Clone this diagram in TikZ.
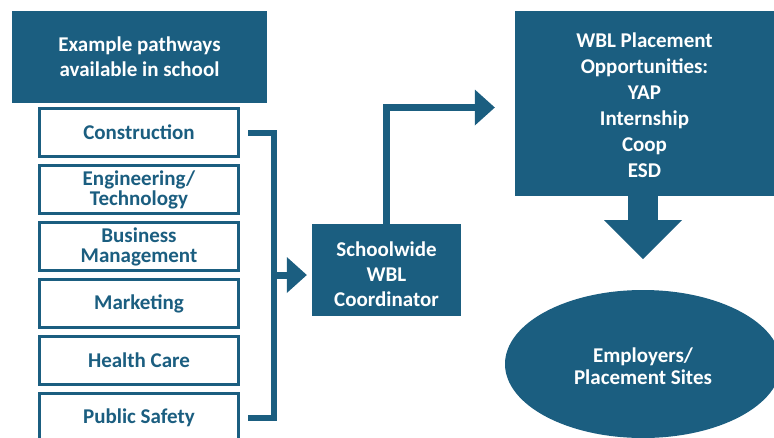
\documentclass[tikz,border=0pt]{standalone}
\usepackage{fontspec}
\setmainfont{Carlito}
\usetikzlibrary{arrows.meta,calc,shapes.geometric}
\definecolor{wblblue}{HTML}{1B5E80}
\begin{document}
\begin{tikzpicture}[x=1pt,y=-1pt,
  darkbox/.style={fill=wblblue, text=white, align=center, inner sep=0pt,
    font=\bfseries\fontsize{21}{25}\selectfont},
  pathbox/.style={draw=wblblue, line width=3pt, fill=white, text=wblblue,
    align=center, inner sep=0pt, minimum width=199pt, minimum height=48pt,
    font=\bfseries\fontsize{21}{20}\selectfont},
  link/.style={draw=wblblue, line width=6pt, line join=miter, line cap=butt},
  flow/.style={draw=wblblue, line width=7pt, line join=miter,
    -{Triangle[width=36pt,length=20pt,line width=0pt]}},
  bigflow/.style={draw=wblblue, line width=30pt,
    -{Triangle[width=78pt,length=39pt,line width=0pt]}}
]
\clip (0,0) rectangle (774,437);

% pathway list
\node[darkbox, minimum width=255pt, minimum height=92pt] (head) at (139.5,57)
  {Example pathways\\available in school};
\node[pathbox] (p1) at (139,132.5) {Construction};
\node[pathbox] (p2) at (139,189.5) {Engineering/\\Technology};
\node[pathbox] (p3) at (139,246.5) {Business\\Management};
\node[pathbox] (p4) at (139,303.5) {Marketing};
\node[pathbox] (p5) at (139,360.5) {Health Care};
\node[pathbox] (p6) at (139,417.5) {Public Safety};

% coordinator and placements
\node[darkbox, minimum width=149pt, minimum height=92pt] (coord) at (386.5,270)
  {\rule{0pt}{23pt}Schoolwide\\WBL\\Coordinator};
\node[darkbox, minimum width=259pt, minimum height=185pt,
  font=\bfseries\fontsize{21}{26}\selectfont] (wbl) at (644.5,103.5)
  {\rule{0pt}{19pt}WBL Placement\\Opportunities:\\YAP\\Internship\\Coop\\ESD};
\node[darkbox, ellipse, minimum width=276pt, minimum height=148pt,
  font=\bfseries\fontsize{21}{22}\selectfont] (emp) at (643,364)
  {\rule{0pt}{19pt}Employers/\\Placement Sites};

% bracket gathering the pathways
\draw[link] ($(p1.east)+(8,0)$) -- ++(26,0) |- ($(p6.east)+(8,0)$);
\coordinate (bmid) at ($(p1.east)!.5!(p6.east)+(34,0)$);

% connectors
\draw[flow, shorten >=5pt] (bmid) -- (bmid -| coord.west);
\draw[flow] (coord.north) |- ([xshift=-20pt,yshift=-4pt]wbl.west);
\draw[bigflow] ([xshift=-1.5pt]wbl.south) -- ++(0,63);
\end{tikzpicture}
\end{document}
